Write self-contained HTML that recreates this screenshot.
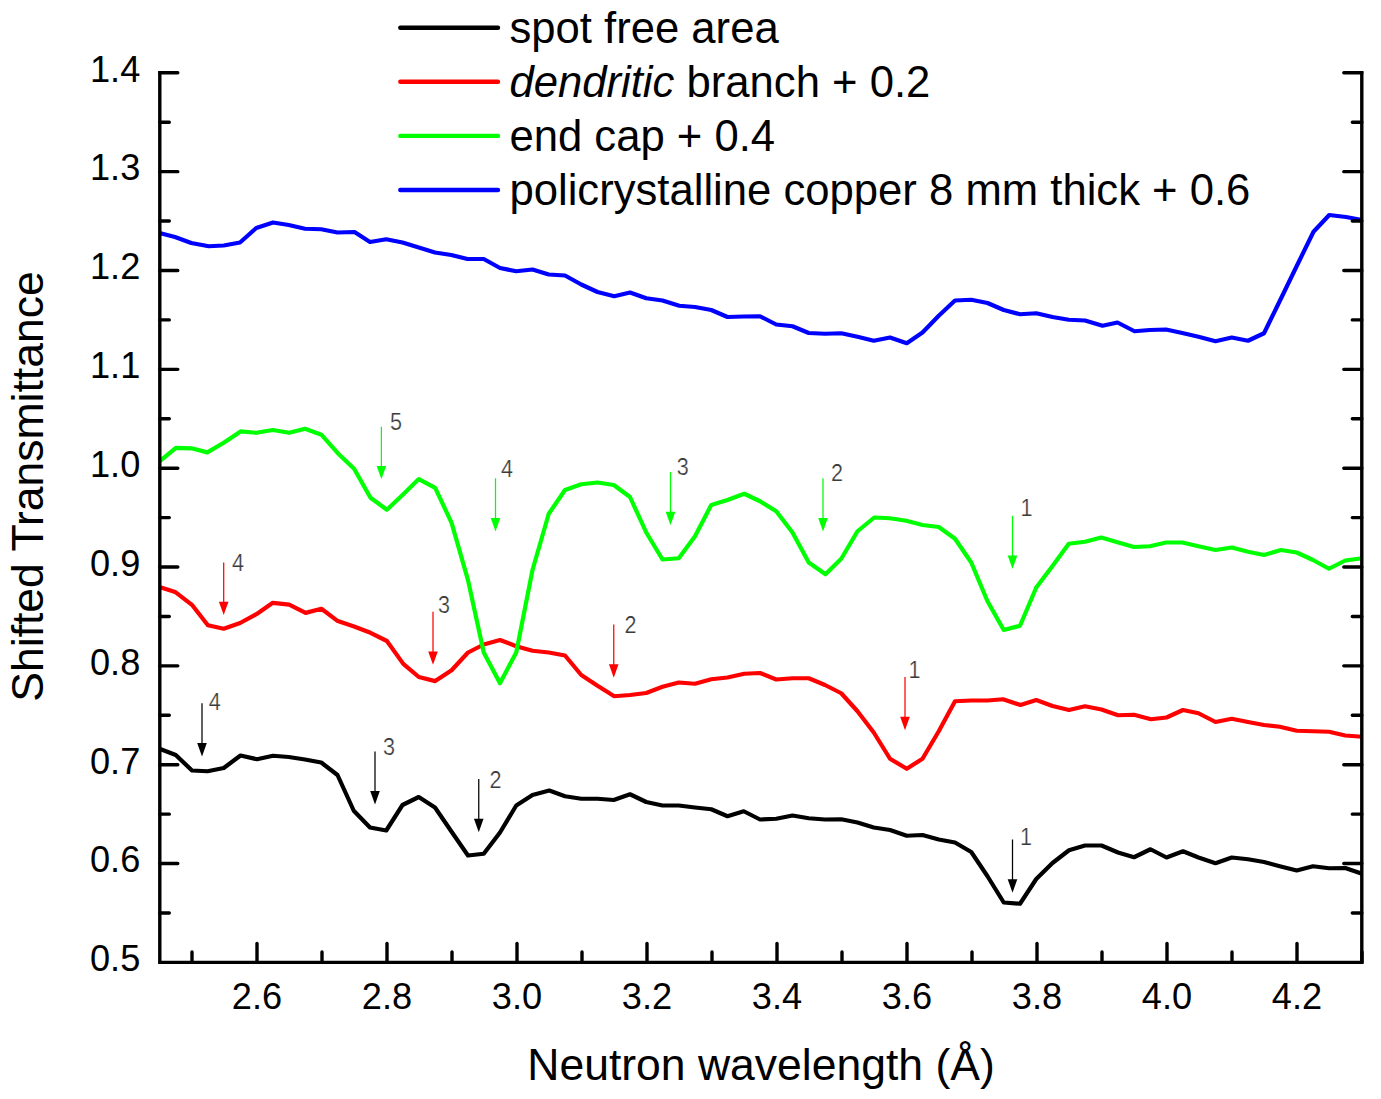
<!DOCTYPE html>
<html><head><meta charset="utf-8"><title>Shifted Transmittance</title>
<style>
html,body{margin:0;padding:0;background:#fff;}
body{width:1381px;height:1099px;overflow:hidden;}
svg{display:block;}
text{font-family:"Liberation Sans",sans-serif;}
</style></head><body>
<svg width="1381" height="1099" viewBox="0 0 1381 1099">
<rect width="1381" height="1099" fill="#ffffff"/>
<g fill="none" stroke-linejoin="round" stroke-linecap="butt" stroke-width="4.2">
<polyline stroke="#0000ff" points="159.50,233.00 175.00,237.00 191.25,243.00 208.75,246.25 223.75,245.50 240.00,242.50 256.25,228.00 273.00,222.50 288.75,225.00 305.00,228.75 321.25,229.25 337.50,232.50 354.50,232.00 370.00,242.00 386.25,239.25 402.50,242.50 418.75,247.50 435.00,252.50 451.25,255.00 467.50,259.00 483.75,259.00 500.00,268.00 516.25,271.25 532.50,269.50 548.75,274.50 565.00,275.50 581.25,284.50 597.50,292.00 614.25,296.25 630.00,292.50 646.25,298.25 662.50,300.50 679.25,305.75 695.00,307.00 711.25,310.00 727.50,317.00 743.75,316.50 760.00,316.25 776.25,324.50 792.50,326.25 808.75,333.00 825.00,333.75 841.25,333.25 857.50,336.75 873.75,340.75 890.00,337.50 906.75,343.25 922.50,332.50 938.75,315.75 955.00,300.50 971.25,299.75 987.50,303.00 1003.75,310.00 1020.00,314.25 1036.25,313.25 1052.50,317.00 1068.75,319.75 1085.00,320.50 1102.50,325.75 1117.50,322.50 1134.50,331.25 1149.75,330.00 1166.00,329.50 1182.25,333.00 1198.50,336.75 1215.50,341.25 1231.75,337.50 1248.00,340.75 1264.00,333.25 1280.25,300.00 1296.50,266.50 1313.50,231.75 1329.25,215.00 1346.00,217.00 1362.00,220.00"/>
<polyline stroke="#000000" points="159.50,748.75 175.75,755.00 192.00,770.50 207.50,771.25 223.75,768.00 240.50,755.50 257.00,759.25 273.00,755.75 288.75,757.00 305.00,759.50 321.25,762.50 337.50,775.00 353.75,810.75 370.00,827.50 386.25,830.50 402.50,805.00 418.75,797.00 435.00,807.50 451.25,831.25 468.00,855.50 483.75,853.75 500.00,832.50 516.25,805.50 532.50,795.00 549.25,790.50 565.00,796.25 581.25,798.75 597.50,798.75 613.75,800.00 630.00,794.25 646.25,802.00 662.50,805.50 678.75,805.50 695.00,807.50 711.25,809.25 727.50,816.25 743.75,811.25 760.00,819.50 776.25,818.75 792.50,815.50 808.75,818.25 825.00,819.50 841.25,819.25 857.50,822.50 873.75,827.50 890.00,830.00 906.75,835.75 922.50,835.00 938.75,839.50 955.00,842.50 971.25,852.00 987.50,876.25 1003.75,902.50 1020.00,903.75 1036.25,879.00 1052.50,863.00 1069.00,850.25 1085.00,845.50 1101.50,845.50 1118.00,852.50 1134.00,857.25 1150.50,849.25 1166.50,857.50 1183.00,851.25 1198.50,857.50 1215.50,863.25 1231.75,857.50 1248.00,859.25 1264.00,862.00 1279.75,866.25 1296.75,870.50 1313.00,866.25 1329.00,868.25 1345.25,868.00 1362.00,873.75"/>
<polyline stroke="#ff0000" points="159.50,587.00 175.10,591.90 192.30,605.20 207.90,625.20 223.70,628.70 240.10,623.00 256.40,614.20 272.80,602.80 289.20,604.70 305.60,612.90 321.40,608.80 337.80,621.10 354.10,626.50 370.50,632.80 386.90,641.00 403.30,663.90 418.80,677.00 435.20,681.10 451.60,670.20 468.00,652.50 483.75,644.50 500.00,640.00 516.25,646.25 532.50,650.75 548.75,652.50 565.00,655.50 581.25,675.00 597.50,685.75 614.25,696.25 630.00,695.00 646.25,693.00 662.50,686.75 678.75,682.50 695.00,683.75 711.25,679.25 727.50,677.50 744.25,673.75 760.00,673.00 776.25,679.50 792.50,678.25 808.75,678.25 825.00,685.00 841.25,693.25 857.50,711.25 873.75,732.50 890.00,758.75 906.75,768.75 922.50,758.75 938.75,731.25 955.00,701.25 971.25,700.50 987.50,700.50 1003.00,699.25 1020.50,705.00 1036.25,700.00 1052.50,706.00 1069.00,710.00 1085.00,706.25 1101.50,709.50 1118.00,715.25 1134.00,714.75 1151.00,719.25 1166.50,717.50 1183.00,710.00 1198.50,713.25 1215.50,722.00 1231.75,718.75 1248.00,722.00 1264.00,725.00 1279.75,726.75 1296.75,730.75 1313.00,731.25 1329.00,731.75 1345.25,735.50 1362.00,736.75"/>
<polyline stroke="#00ff00" points="159.50,461.40 175.90,447.80 191.50,448.30 207.30,452.40 223.70,442.80 240.60,431.40 256.40,432.80 272.80,430.00 289.20,432.80 305.00,428.70 321.40,434.70 337.80,453.20 354.10,468.80 370.50,497.70 386.90,509.70 403.30,494.20 418.80,479.10 435.20,487.90 451.60,522.80 468.00,580.10 483.75,652.50 500.00,683.25 516.25,652.50 532.50,570.00 548.75,513.75 565.00,490.00 581.25,484.25 597.50,482.50 613.75,485.00 630.00,497.00 646.25,532.50 662.50,559.50 678.75,558.25 695.00,536.25 711.25,505.00 727.50,500.00 744.25,493.75 760.00,501.25 776.25,511.25 792.50,532.50 808.75,562.50 825.50,574.25 841.25,558.75 857.50,531.25 874.25,517.50 890.00,518.25 906.25,520.75 922.50,525.00 938.75,527.00 955.00,538.75 971.25,562.50 987.50,601.25 1003.75,630.00 1020.00,625.75 1036.25,587.50 1052.50,566.00 1068.75,543.75 1085.00,541.75 1101.25,537.50 1117.50,542.25 1134.00,547.00 1149.75,546.25 1166.00,542.50 1182.25,542.50 1198.50,546.25 1215.50,550.00 1231.75,547.50 1248.00,551.75 1264.00,555.00 1281.00,550.00 1296.75,552.50 1313.00,560.00 1329.00,568.75 1345.25,560.50 1362.00,558.25"/>
</g>
<g stroke="#000" stroke-width="3.4" fill="none" stroke-linecap="round">
<path stroke-linecap="butt" stroke-linejoin="miter" d="M159.8 71.1 V962.4 H1361.8 V71.1"/>
<path d="M159.8 912.98 h9.5 M1361.8 912.98 h-9.5"/>
<path d="M159.8 863.56 h18.0 M1361.8 863.56 h-18.0"/>
<path d="M159.8 814.13 h9.5 M1361.8 814.13 h-9.5"/>
<path d="M159.8 764.71 h18.0 M1361.8 764.71 h-18.0"/>
<path d="M159.8 715.29 h9.5 M1361.8 715.29 h-9.5"/>
<path d="M159.8 665.87 h18.0 M1361.8 665.87 h-18.0"/>
<path d="M159.8 616.44 h9.5 M1361.8 616.44 h-9.5"/>
<path d="M159.8 567.02 h18.0 M1361.8 567.02 h-18.0"/>
<path d="M159.8 517.60 h9.5 M1361.8 517.60 h-9.5"/>
<path d="M159.8 468.18 h18.0 M1361.8 468.18 h-18.0"/>
<path d="M159.8 418.76 h9.5 M1361.8 418.76 h-9.5"/>
<path d="M159.8 369.33 h18.0 M1361.8 369.33 h-18.0"/>
<path d="M159.8 319.91 h9.5 M1361.8 319.91 h-9.5"/>
<path d="M159.8 270.49 h18.0 M1361.8 270.49 h-18.0"/>
<path d="M159.8 221.07 h9.5 M1361.8 221.07 h-9.5"/>
<path d="M159.8 171.64 h18.0 M1361.8 171.64 h-18.0"/>
<path d="M159.8 122.22 h9.5 M1361.8 122.22 h-9.5"/>
<path d="M159.8 72.80 h18.0 M1361.8 72.80 h-18.0"/>
<path d="M192.00 962.4 v-10.5"/>
<path d="M257.00 962.4 v-19.0"/>
<path d="M322.00 962.4 v-10.5"/>
<path d="M387.00 962.4 v-19.0"/>
<path d="M452.00 962.4 v-10.5"/>
<path d="M517.00 962.4 v-19.0"/>
<path d="M582.00 962.4 v-10.5"/>
<path d="M647.00 962.4 v-19.0"/>
<path d="M712.00 962.4 v-10.5"/>
<path d="M777.00 962.4 v-19.0"/>
<path d="M842.00 962.4 v-10.5"/>
<path d="M907.00 962.4 v-19.0"/>
<path d="M972.00 962.4 v-10.5"/>
<path d="M1037.00 962.4 v-19.0"/>
<path d="M1102.00 962.4 v-10.5"/>
<path d="M1167.00 962.4 v-19.0"/>
<path d="M1232.00 962.4 v-10.5"/>
<path d="M1297.00 962.4 v-19.0"/>
<path d="M1362.00 962.4 v-10.5"/>
</g>
<g font-size="36.2" fill="#000">
<text x="140.3" y="971.2" text-anchor="end">0.5</text>
<text x="140.3" y="872.4" text-anchor="end">0.6</text>
<text x="140.3" y="773.5" text-anchor="end">0.7</text>
<text x="140.3" y="674.7" text-anchor="end">0.8</text>
<text x="140.3" y="575.8" text-anchor="end">0.9</text>
<text x="140.3" y="477.0" text-anchor="end">1.0</text>
<text x="140.3" y="378.1" text-anchor="end">1.1</text>
<text x="140.3" y="279.3" text-anchor="end">1.2</text>
<text x="140.3" y="180.4" text-anchor="end">1.3</text>
<text x="140.3" y="81.6" text-anchor="end">1.4</text>
<text x="257.0" y="1009" text-anchor="middle">2.6</text>
<text x="387.0" y="1009" text-anchor="middle">2.8</text>
<text x="517.0" y="1009" text-anchor="middle">3.0</text>
<text x="647.0" y="1009" text-anchor="middle">3.2</text>
<text x="777.0" y="1009" text-anchor="middle">3.4</text>
<text x="907.0" y="1009" text-anchor="middle">3.6</text>
<text x="1037.0" y="1009" text-anchor="middle">3.8</text>
<text x="1167.0" y="1009" text-anchor="middle">4.0</text>
<text x="1297.0" y="1009" text-anchor="middle">4.2</text>
</g>
<text x="761" y="1080.3" font-size="44.5" text-anchor="middle">Neutron wavelength (Å)</text>
<text transform="translate(42.8 486.5) rotate(-90)" font-size="44.5" text-anchor="middle">Shifted Transmittance</text>
<path d="M400.3 27.7 H498" stroke="#000000" stroke-width="4.4" stroke-linecap="round" fill="none"/>
<text x="509.4" y="42.9" font-size="43.65">spot free area</text>
<path d="M400.3 81.8 H498" stroke="#ff0000" stroke-width="4.4" stroke-linecap="round" fill="none"/>
<text x="509.4" y="97.0" font-size="43.65"><tspan font-style="italic">dendritic</tspan> branch + 0.2</text>
<path d="M400.3 135.9 H498" stroke="#00ff00" stroke-width="4.4" stroke-linecap="round" fill="none"/>
<text x="509.4" y="151.1" font-size="43.65">end cap + 0.4</text>
<path d="M400.3 190.0 H498" stroke="#0000ff" stroke-width="4.4" stroke-linecap="round" fill="none"/>
<text x="509.4" y="205.2" font-size="43.65">policrystalline copper 8 mm thick + 0.6</text>
<path d="M381.40 426.80 V471.20" stroke="#00ff00" stroke-width="1.25" fill="none"/><path d="M381.40 479.20 l-4.8 -13.3 h9.6 z" fill="#00ff00"/><text transform="translate(390.0 430.0) scale(0.93 1)" font-size="23.2" fill="#3a3a3a" stroke="#fff" stroke-width="0.25">5</text>
<path d="M495.50 478.25 V523.40" stroke="#00ff00" stroke-width="1.25" fill="none"/><path d="M495.50 531.40 l-4.8 -13.3 h9.6 z" fill="#00ff00"/><text transform="translate(501.0 477.0) scale(0.93 1)" font-size="23.2" fill="#3a3a3a" stroke="#fff" stroke-width="0.25">4</text>
<path d="M670.50 472.00 V517.15" stroke="#00ff00" stroke-width="1.25" fill="none"/><path d="M670.50 525.15 l-4.8 -13.3 h9.6 z" fill="#00ff00"/><text transform="translate(676.8 474.5) scale(0.93 1)" font-size="23.2" fill="#3a3a3a" stroke="#fff" stroke-width="0.25">3</text>
<path d="M823.00 478.25 V523.40" stroke="#00ff00" stroke-width="1.25" fill="none"/><path d="M823.00 531.40 l-4.8 -13.3 h9.6 z" fill="#00ff00"/><text transform="translate(831.0 480.5) scale(0.93 1)" font-size="23.2" fill="#3a3a3a" stroke="#fff" stroke-width="0.25">2</text>
<path d="M1012.50 515.75 V560.90" stroke="#00ff00" stroke-width="1.25" fill="none"/><path d="M1012.50 568.90 l-4.8 -13.3 h9.6 z" fill="#00ff00"/><text transform="translate(1020.5 515.5) scale(0.93 1)" font-size="23.2" fill="#3a3a3a" stroke="#fff" stroke-width="0.25">1</text>
<path d="M223.70 562.40 V607.10" stroke="#ff0000" stroke-width="1.25" fill="none"/><path d="M223.70 615.10 l-4.8 -13.3 h9.6 z" fill="#ff0000"/><text transform="translate(231.9 571.4) scale(0.93 1)" font-size="23.2" fill="#3a3a3a" stroke="#fff" stroke-width="0.25">4</text>
<path d="M433.00 611.80 V656.80" stroke="#ff0000" stroke-width="1.25" fill="none"/><path d="M433.00 664.80 l-4.8 -13.3 h9.6 z" fill="#ff0000"/><text transform="translate(438.0 613.0) scale(0.93 1)" font-size="23.2" fill="#3a3a3a" stroke="#fff" stroke-width="0.25">3</text>
<path d="M613.75 624.50 V669.65" stroke="#ff0000" stroke-width="1.25" fill="none"/><path d="M613.75 677.65 l-4.8 -13.3 h9.6 z" fill="#ff0000"/><text transform="translate(624.5 632.5) scale(0.93 1)" font-size="23.2" fill="#3a3a3a" stroke="#fff" stroke-width="0.25">2</text>
<path d="M905.00 677.00 V722.15" stroke="#ff0000" stroke-width="1.25" fill="none"/><path d="M905.00 730.15 l-4.8 -13.3 h9.6 z" fill="#ff0000"/><text transform="translate(908.5 677.5) scale(0.93 1)" font-size="23.2" fill="#3a3a3a" stroke="#fff" stroke-width="0.25">1</text>
<path d="M202.00 703.25 V748.40" stroke="#000000" stroke-width="1.25" fill="none"/><path d="M202.00 756.40 l-4.8 -13.3 h9.6 z" fill="#000000"/><text transform="translate(208.8 709.5) scale(0.93 1)" font-size="23.2" fill="#3a3a3a" stroke="#fff" stroke-width="0.25">4</text>
<path d="M375.00 751.50 V796.40" stroke="#000000" stroke-width="1.25" fill="none"/><path d="M375.00 804.40 l-4.8 -13.3 h9.6 z" fill="#000000"/><text transform="translate(383.0 755.0) scale(0.93 1)" font-size="23.2" fill="#3a3a3a" stroke="#fff" stroke-width="0.25">3</text>
<path d="M478.75 779.00 V824.15" stroke="#000000" stroke-width="1.25" fill="none"/><path d="M478.75 832.15 l-4.8 -13.3 h9.6 z" fill="#000000"/><text transform="translate(489.5 787.5) scale(0.93 1)" font-size="23.2" fill="#3a3a3a" stroke="#fff" stroke-width="0.25">2</text>
<path d="M1012.50 839.50 V884.65" stroke="#000000" stroke-width="1.25" fill="none"/><path d="M1012.50 892.65 l-4.8 -13.3 h9.6 z" fill="#000000"/><text transform="translate(1020.0 845.0) scale(0.93 1)" font-size="23.2" fill="#3a3a3a" stroke="#fff" stroke-width="0.25">1</text>
</svg>
</body></html>
